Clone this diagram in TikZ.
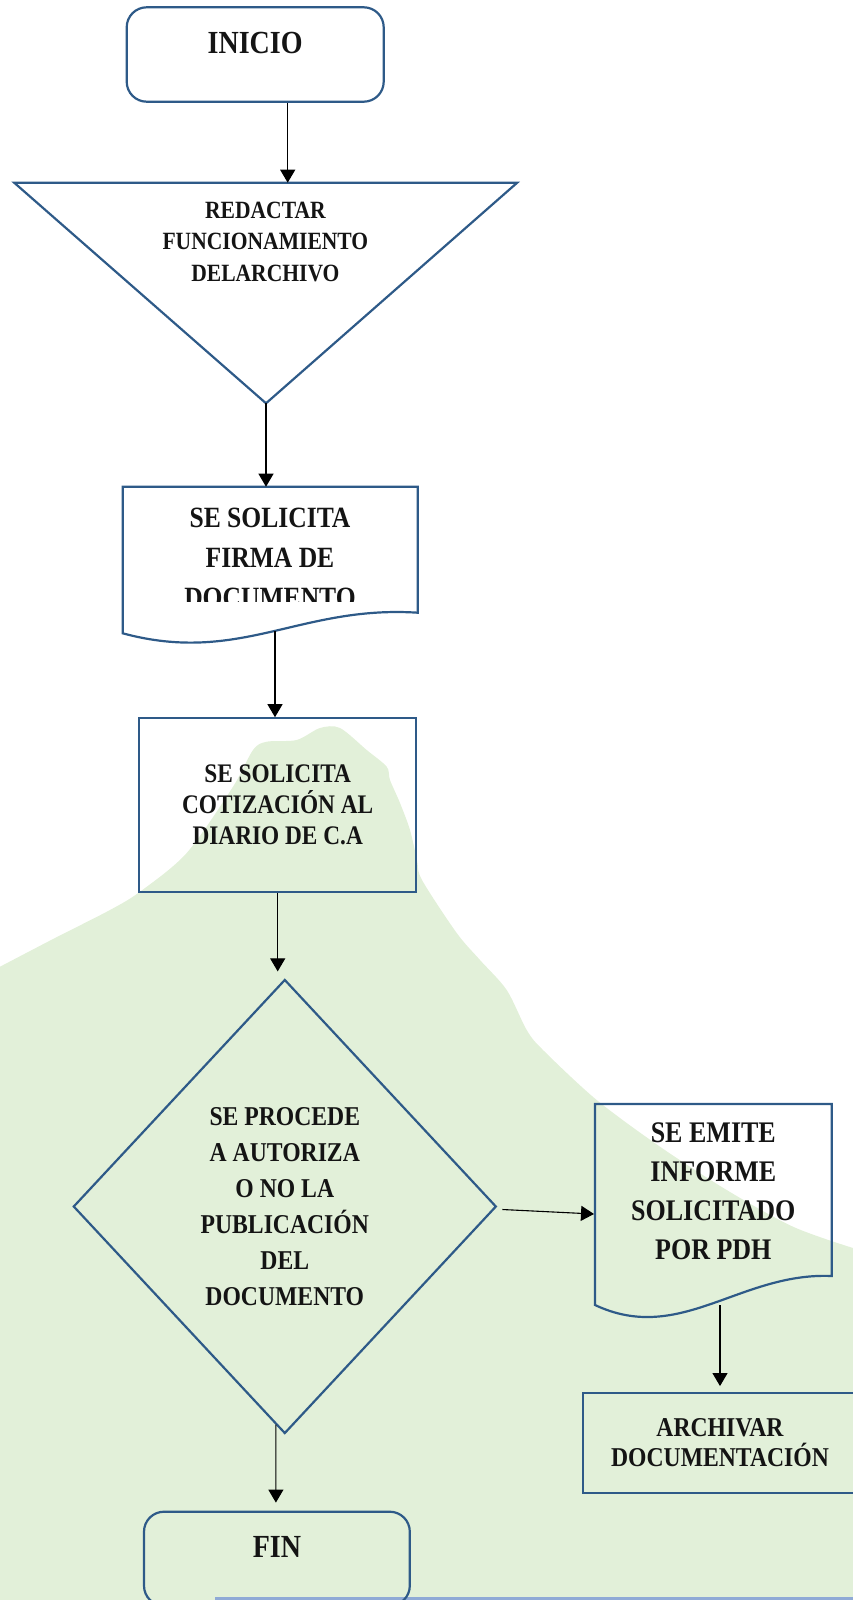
\documentclass[tikz,border=0pt]{standalone}
\usepackage{fontspec}
\setmainfont{Liberation Serif}[FakeStretch=0.87]
\usetikzlibrary{arrows.meta, shapes.geometric, calc}
\definecolor{azulborde}{HTML}{2E5A88}
\definecolor{verdefondo}{HTML}{E2F0D9}
\definecolor{azulclaro}{HTML}{8FAAD6}
\definecolor{tinta}{HTML}{141414}

\begin{document}
\begin{tikzpicture}[x=1pt, y=-1pt,
  forma/.style={draw=azulborde, line width=2.2pt},
  caja/.style={forma, rectangle, inner sep=0pt},
  terminal/.style={caja, rounded corners=20pt, text depth=23.6pt},
  flecha/.style={-{Triangle[length=13pt,width=15pt]}, line width=1.1pt, black},
  etiqueta/.style={text=tinta, align=center},
  letra/.style 2 args={font=\fontsize{#1}{#2}\selectfont\bfseries}]
  \useasboundingbox (0,0) rectangle (853,1600);
  \clip (0,0) rectangle (853,1600);

  \fill[verdefondo] plot[smooth, tension=0.5] coordinates {(0,966.7) (55,938) (110,910) (140,891.7)
    (186.7,853) (233,786.7) (253,750) (266.7,741.7) (296.7,740) (320,728) (340,728) (366.7,750)
    (386.7,766.7) (390,780) (400,803) (410,830) (417,860) (422,880) (456.7,933) (480,960)
    (506.7,990) (526.7,1030) (543,1050) (596.7,1100) (660,1146.7) (726.7,1190) (793,1226.7) (853,1248)}
    -- (853,1600) -- (0,1600) -- cycle;
  \draw[azulclaro, line width=3.3pt] (215,1598.4) -- (853,1598.4);

  \node[terminal, minimum width=257pt, minimum height=94.4pt, etiqueta, letra={32.2}{34}] (inicio) at (255.2,54.5) {INICIO};

  \coordinate (tA) at (14.2,182.7);
  \coordinate (tB) at (517.2,182.7);
  \coordinate (tC) at (266,403.3);
  \draw[forma] (tA) -- (tB) -- (tC) -- cycle;
  \node[etiqueta, letra={24.8}{31.7}] (redactar) at (265.4,241.7) {REDACTAR\\FUNCIONAMIENTO\\DELARCHIVO};

  \coordinate (d1a) at (122.7,486.7);
  \coordinate (d1w) at (275,631);
  \draw[forma] (122.7,633.3) -- (d1a) -- (417.7,486.7) -- (417.7,612.7)
    .. controls (300,605) and (240,665) .. (122.7,633.3) -- cycle;
  \begin{scope}
    \clip (100,470) rectangle (440,601.7);
    \node[etiqueta, letra={29.4}{40}] (firma) at (270,558.3) {SE SOLICITA\\FIRMA DE\\DOCUMENTO};
  \end{scope}

  \node[caja, minimum width=276.7pt, minimum height=173.4pt, etiqueta, letra={26.8}{30.7}] (cotiza) at (277.7,805) {SE SOLICITA\\COTIZACIÓN AL\\DIARIO DE C.A};

  \node[forma, diamond, minimum width=423pt, minimum height=454pt, inner sep=0pt, etiqueta, letra={27.2}{36}] (rombo) at (284.8,1206.5)
    {SE PROCEDE\\A AUTORIZA\\O NO LA\\PUBLICACIÓN\\DEL\\DOCUMENTO};

  \coordinate (d2izq) at (594,1214);
  \coordinate (d2w) at (720,1305);
  \draw[forma] (595,1305) -- (595,1104) -- (831.7,1104) -- (831.7,1276)
    .. controls (740,1272) and (680,1345) .. (595,1305) -- cycle;
  \node[etiqueta, letra={29.9}{39}] (emite) at (713.3,1191.6) {SE EMITE\\INFORME\\SOLICITADO\\POR PDH};

  \node[caja, minimum width=274.6pt, minimum height=99.7pt, etiqueta, letra={27.2}{30}] (archivar) at (720,1443) {ARCHIVAR\\DOCUMENTACIÓN};

  \node[terminal, minimum width=265.8pt, minimum height=94pt, etiqueta, letra={32.2}{34}] (fin) at (276.9,1558.7) {FIN};

  \draw[flecha] ($(inicio.south)+(32.5,0)$) -- ($(inicio.south |- tA)+(32.5,0)$);
  \draw[flecha] (tC) -- (tC |- d1a);
  \draw[flecha] (d1w) -- (d1w |- cotiza.north);
  \draw[flecha] (cotiza.south) -- ($(cotiza.south |- rombo.north)+(0,-7)$);
  \draw[flecha] ($(rombo.east)+(5,3)$) -- (d2izq);
  \draw[flecha] (d2w) -- ($(d2w |- archivar.north)+(0,-6)$);
  \draw[flecha] ($(rombo.south)+(-9,-10)$) -- ($(fin.north)+(-1,-8)$);
\end{tikzpicture}
\end{document}
